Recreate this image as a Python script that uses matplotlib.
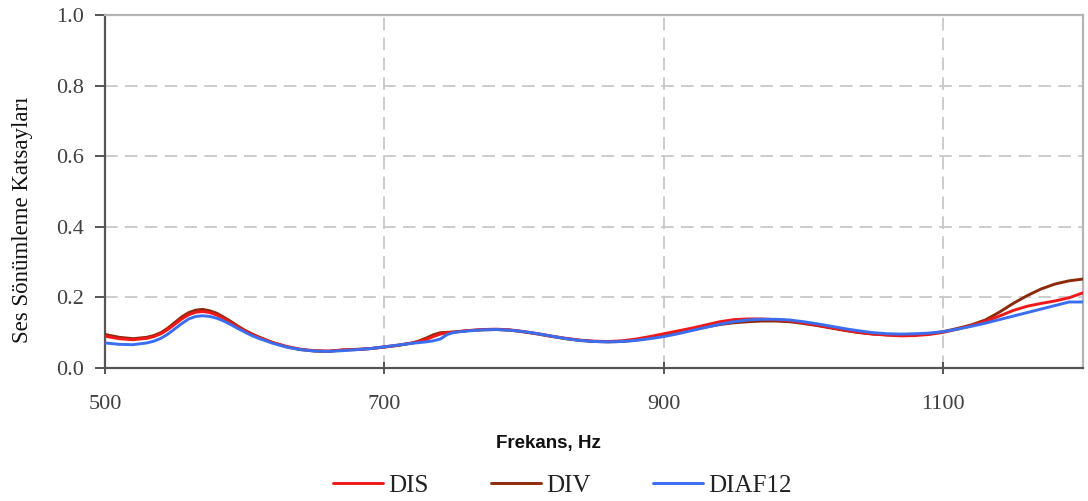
import matplotlib
matplotlib.use("Agg")
import matplotlib.pyplot as plt

# Frequency points (Hz); denser steps where the curves bend sharply
freq_hz = [500, 510, 520,
           530, 535, 540, 545, 550, 555, 560, 565, 570, 575, 580, 585, 590,
           595, 600, 605, 610,
           620, 630, 640, 650, 660, 670, 680, 690, 700, 710,
           720, 725, 730, 735, 740, 745, 750, 755, 760,
           770, 780, 790, 800, 810, 820, 830, 840, 850, 860, 870, 880, 890,
           900, 910, 920, 930, 940, 950, 960, 970, 980, 990,
           1000, 1010, 1020, 1030, 1040, 1050, 1060, 1070, 1080, 1090,
           1100, 1110, 1120, 1130, 1140, 1150, 1160, 1170, 1180, 1190,
           1200]

# Sound absorption coefficients
dis = [0.090, 0.083, 0.080,
       0.084, 0.089, 0.097, 0.109, 0.124, 0.139, 0.151, 0.158, 0.160, 0.157,
       0.150, 0.140, 0.128, 0.116, 0.105, 0.095, 0.087,
       0.072, 0.061, 0.053, 0.049, 0.048, 0.051, 0.053, 0.055, 0.060, 0.065,
       0.071, 0.075, 0.081, 0.089, 0.096, 0.100, 0.102, 0.104, 0.106,
       0.109, 0.110, 0.108, 0.103, 0.097, 0.090, 0.084, 0.079, 0.076, 0.075,
       0.077, 0.082, 0.089,
       0.097, 0.105, 0.113, 0.122, 0.131, 0.137, 0.139, 0.139, 0.137, 0.134,
       0.128, 0.121, 0.114, 0.107, 0.101, 0.096, 0.093, 0.091, 0.092, 0.095,
       0.101, 0.110, 0.120, 0.132, 0.147, 0.163, 0.175, 0.183, 0.190, 0.199,
       0.213]

div = [0.095, 0.087, 0.083,
       0.087, 0.092, 0.100, 0.113, 0.129, 0.145, 0.157, 0.164, 0.166, 0.162,
       0.155, 0.144, 0.132, 0.119, 0.107, 0.097, 0.088,
       0.072, 0.060, 0.052, 0.048, 0.047, 0.051, 0.052, 0.055, 0.059, 0.064,
       0.071, 0.077, 0.085, 0.094, 0.100, 0.101, 0.102, 0.104, 0.106,
       0.108, 0.109, 0.107, 0.102, 0.096, 0.089, 0.083, 0.078, 0.075, 0.074,
       0.075, 0.079, 0.085,
       0.092, 0.100, 0.108, 0.116, 0.123, 0.128, 0.131, 0.133, 0.133, 0.131,
       0.126, 0.120, 0.113, 0.106, 0.100, 0.096, 0.094, 0.093, 0.094, 0.097,
       0.103, 0.112, 0.122, 0.136, 0.158, 0.183, 0.205, 0.224, 0.238, 0.247,
       0.252]

diaf12 = [0.071, 0.067, 0.066,
          0.071, 0.076, 0.084, 0.096, 0.111, 0.126, 0.139, 0.146, 0.148, 0.146,
          0.141, 0.133, 0.123, 0.112, 0.102, 0.092, 0.084,
          0.070, 0.059, 0.052, 0.048, 0.047, 0.049, 0.052, 0.055, 0.060, 0.065,
          0.070, 0.072, 0.074, 0.077, 0.082, 0.095, 0.101, 0.103, 0.105,
          0.108, 0.109, 0.107, 0.103, 0.097, 0.090, 0.083, 0.078, 0.075, 0.074,
          0.075, 0.078, 0.083,
          0.089, 0.097, 0.106, 0.115, 0.124, 0.131, 0.136, 0.138, 0.138, 0.136,
          0.131, 0.125, 0.118, 0.111, 0.105, 0.100, 0.097, 0.096, 0.097, 0.099,
          0.103, 0.110, 0.118, 0.127, 0.137, 0.147, 0.157, 0.167, 0.177, 0.187,
          0.187]

x_ticks = [500, 700, 900, 1100]
y_ticks = [0.0, 0.2, 0.4, 0.6, 0.8, 1.0]

SERIF = ["Liberation Serif", "DejaVu Serif"]
SANS = ["Liberation Sans", "DejaVu Sans"]
TXT = "#404040"

fig = plt.figure(figsize=(10.88, 5.01), dpi=100)
ax = fig.add_axes([0.0965, 0.2655, 0.899, 0.7045])

line_kw = dict(lw=2.1, solid_joinstyle="round", solid_capstyle="round")
ax.plot(freq_hz, div, color="#8e2a0c", label="DIV", zorder=3, **line_kw)
ax.plot(freq_hz, dis, color="#f01818", label="DIS", zorder=4, **line_kw)
ax.plot(freq_hz, diaf12, color="#3a6ef0", label="DIAF12", zorder=5, **line_kw)

ax.set_xlim(500, 1200)
ax.set_ylim(0.0, 1.0)
ax.set_xticks(x_ticks)
ax.set_yticks(y_ticks)
ax.set_yticklabels([f"{v:.1f}" for v in y_ticks])

# dashed grid, skipping the frame lines
for v in [0.2, 0.4, 0.6, 0.8]:
    ax.axhline(v, color="#c8c8c8", lw=1.3, ls=(0, (7, 4)), zorder=1)
for v in [700, 900, 1100]:
    ax.axvline(v, color="#c8c8c8", lw=1.3, ls=(0, (7, 4)), zorder=1)

for side in ["left", "bottom"]:
    ax.spines[side].set_color("#555555")
    ax.spines[side].set_linewidth(1.6)
for side in ["top", "right"]:
    ax.spines[side].set_color("#b5b5b5")
    ax.spines[side].set_linewidth(1.6)

ax.tick_params(axis="y", direction="out", length=7, width=1.4, color="#555555",
               pad=8, labelsize=16, labelcolor=TXT)
ax.tick_params(axis="x", direction="inout", length=9, width=1.4, color="#555555",
               pad=15, labelsize=16, labelcolor=TXT)
for lab in ax.get_xticklabels() + ax.get_yticklabels():
    lab.set_family(SERIF)

ax.set_xlabel("Frekans, Hz", family=SANS, fontweight="bold", fontsize=13.5,
              color="#111111")
ax.xaxis.set_label_coords(0.453, -0.19)
ax.set_ylabel("Ses Sönümleme Katsayları", family=SERIF, fontsize=16.5,
              color="#111111")
ax.yaxis.set_label_coords(-0.074, 0.42)

handles, labels = ax.get_legend_handles_labels()
order = [1, 0, 2]
leg = fig.legend([handles[i] for i in order], [labels[i] for i in order],
                 loc="center", bbox_to_anchor=(0.517, 0.030), ncol=3,
                 frameon=False, handlelength=2.0, handletextpad=0.2,
                 columnspacing=2.5, prop={"family": SERIF, "size": 18})
for t in leg.get_texts():
    t.set_color("#222222")

fig.savefig("out.png", dpi=100)
